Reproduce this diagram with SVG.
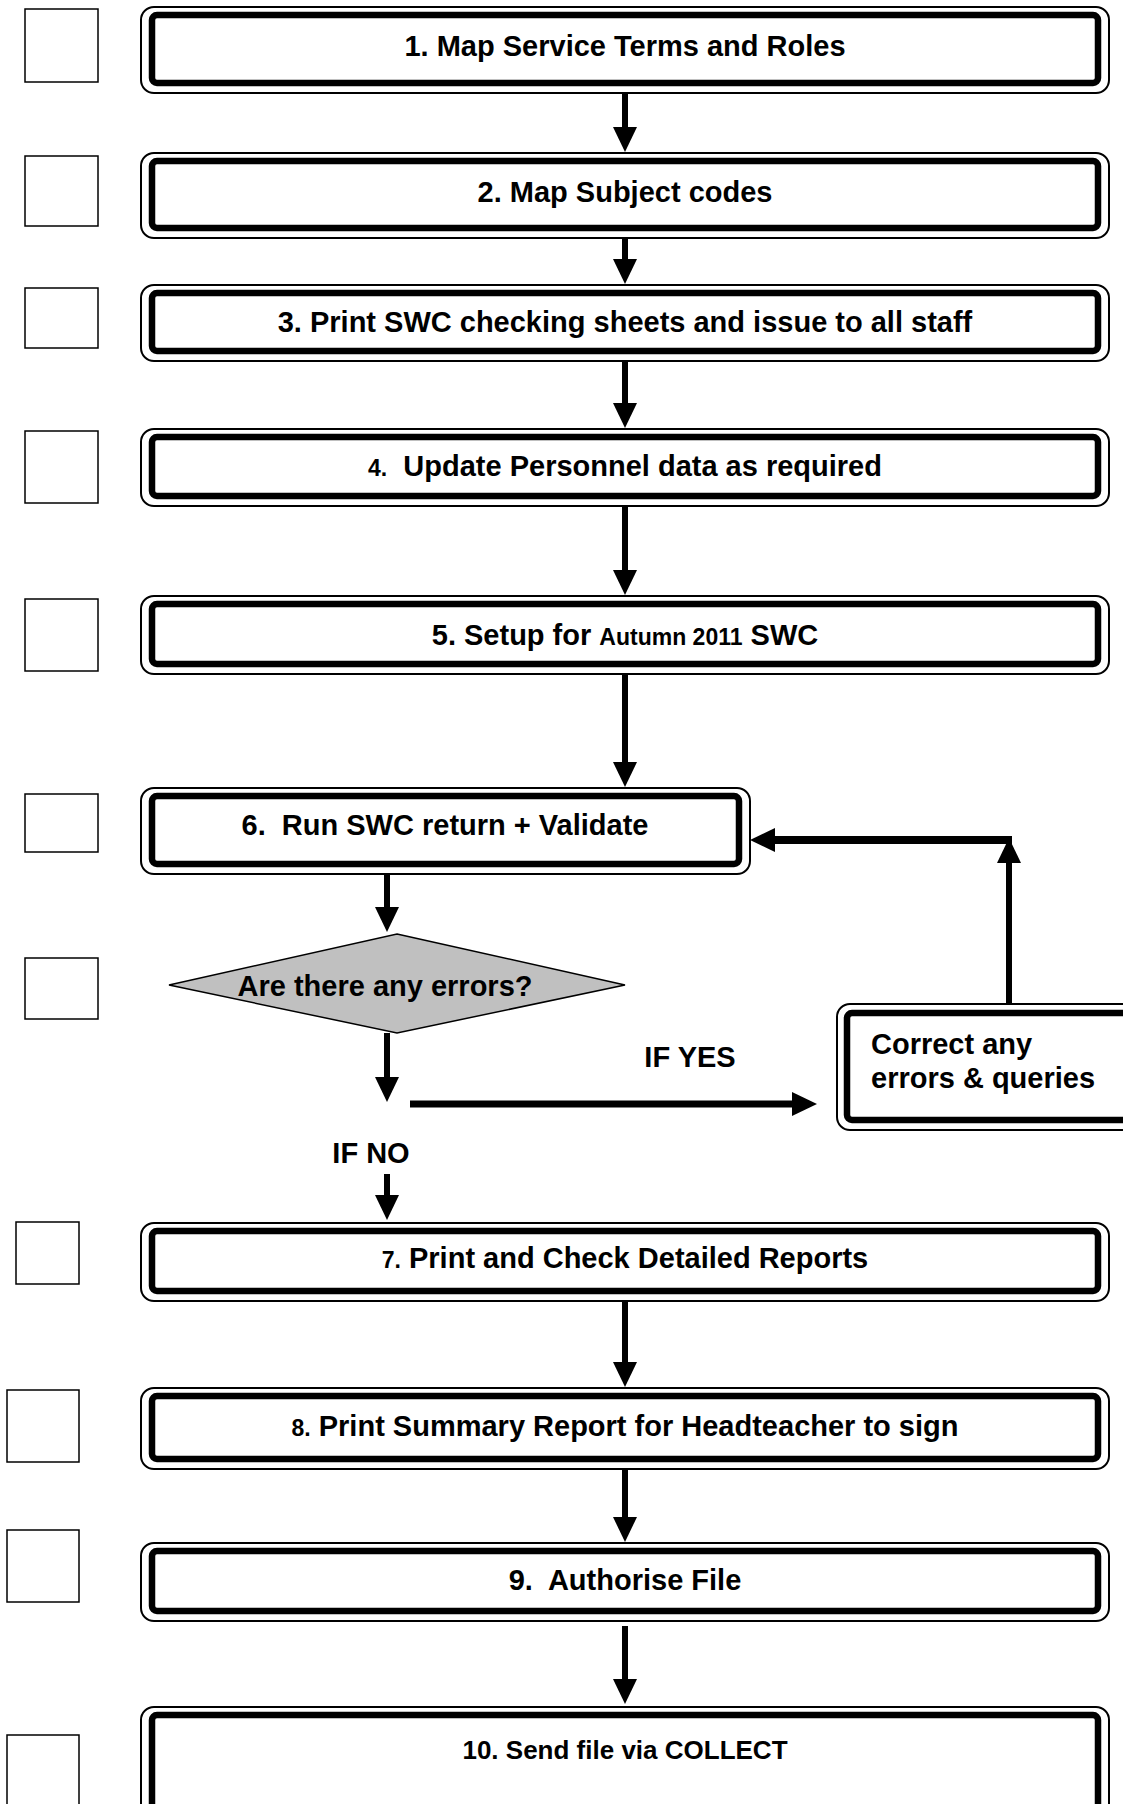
<svg xmlns="http://www.w3.org/2000/svg" width="1123" height="1804" viewBox="0 0 1123 1804">
<style>
.outer{fill:#fff;stroke:#000;stroke-width:2}
.inner{fill:none;stroke:#000;stroke-width:6.5}
.chk{fill:#fff;stroke:#000;stroke-width:1.5}
.t{font-family:"Liberation Sans",Arial,sans-serif;font-weight:bold;font-size:29px;fill:#000}
.m{text-anchor:middle}
.s{font-size:23px}
.conn line{stroke:#000;stroke-width:6}
</style>
<defs>
<marker id="ah" markerUnits="userSpaceOnUse" markerWidth="25" markerHeight="24" refX="0" refY="12" orient="auto">
<path d="M0,0 L25,12 L0,24 z" fill="#000"/>
</marker>
</defs>
<rect width="1123" height="1804" fill="#fff"/>
<g id="checkboxes">
<rect class="chk" x="25" y="9" width="73" height="73"/>
<rect class="chk" x="25" y="156" width="73" height="70"/>
<rect class="chk" x="25" y="288" width="73" height="60"/>
<rect class="chk" x="25" y="431" width="73" height="72"/>
<rect class="chk" x="25" y="599" width="73" height="72"/>
<rect class="chk" x="25" y="794" width="73" height="58"/>
<rect class="chk" x="25" y="958" width="73" height="61"/>
<rect class="chk" x="16" y="1222" width="63" height="62"/>
<rect class="chk" x="7" y="1390" width="72" height="72"/>
<rect class="chk" x="7" y="1530" width="72" height="72"/>
<rect class="chk" x="7" y="1735" width="72" height="80"/>
</g>
<g id="connectors" class="conn">
<line x1="625" y1="93" x2="625" y2="127" marker-end="url(#ah)"/>
<line x1="625" y1="238" x2="625" y2="259" marker-end="url(#ah)"/>
<line x1="625" y1="361" x2="625" y2="403" marker-end="url(#ah)"/>
<line x1="625" y1="506" x2="625" y2="570" marker-end="url(#ah)"/>
<line x1="625" y1="674" x2="625" y2="762" marker-end="url(#ah)"/>
<line x1="387" y1="874" x2="387" y2="907" marker-end="url(#ah)"/>
<line x1="387" y1="1033" x2="387" y2="1077" marker-end="url(#ah)"/>
<line x1="410" y1="1104" x2="792" y2="1104" style="stroke-width:7" marker-end="url(#ah)"/>
<line x1="387" y1="1174" x2="387" y2="1195" marker-end="url(#ah)"/>
<line x1="1009" y1="1004" x2="1009" y2="863" marker-end="url(#ah)"/>
<line x1="1012" y1="840" x2="775" y2="840" style="stroke-width:8" marker-end="url(#ah)"/>
<line x1="625" y1="1301" x2="625" y2="1362" marker-end="url(#ah)"/>
<line x1="625" y1="1469" x2="625" y2="1517" marker-end="url(#ah)"/>
<line x1="625" y1="1626" x2="625" y2="1679" marker-end="url(#ah)"/>
</g>
<g id="n1">
<rect class="outer" x="141" y="7" width="968" height="86" rx="13"/>
<rect class="inner" x="152" y="15" width="946" height="68" rx="5"/>
<text class="t m" x="625" y="56">1. Map Service Terms and Roles</text>
</g>
<g id="n2">
<rect class="outer" x="141" y="153" width="968" height="85" rx="13"/>
<rect class="inner" x="152" y="161" width="946" height="67" rx="5"/>
<text class="t m" x="625" y="202">2. Map Subject codes</text>
</g>
<g id="n3">
<rect class="outer" x="141" y="285" width="968" height="76" rx="13"/>
<rect class="inner" x="152" y="293" width="946" height="58" rx="5"/>
<text class="t m" x="625" y="332">3. Print SWC checking sheets and issue to all staff</text>
</g>
<g id="n4">
<rect class="outer" x="141" y="429" width="968" height="77" rx="13"/>
<rect class="inner" x="152" y="437" width="946" height="59" rx="5"/>
<text class="t m" x="625" y="476" xml:space="preserve"><tspan class="s">4.</tspan>  Update Personnel data as required</text>
</g>
<g id="n5">
<rect class="outer" x="141" y="596" width="968" height="78" rx="13"/>
<rect class="inner" x="152" y="604" width="946" height="60" rx="5"/>
<text class="t m" x="625" y="645">5. Setup for <tspan class="s">Autumn 2011</tspan> SWC</text>
</g>
<g id="n6">
<rect class="outer" x="141" y="788" width="609" height="86" rx="13"/>
<rect class="inner" x="152" y="796" width="587" height="68" rx="5"/>
<text class="t m" x="445" y="835" xml:space="preserve">6.  Run SWC return + Validate</text>
</g>
<g id="decision">
<polygon points="397,934 625,985 397,1033 169,985" fill="#c0c0c0" stroke="#000" stroke-width="1.5"/>
<text class="t m" x="385" y="996">Are there any errors?</text>
</g>
<g id="labels">
<text class="t m" x="690" y="1067">IF YES</text>
<text class="t m" x="371" y="1163">IF NO</text>
</g>
<g id="correct">
<rect class="outer" x="837" y="1004" width="300" height="126" rx="13"/>
<rect class="inner" x="847" y="1013" width="290" height="107" rx="5"/>
<text class="t" x="871" y="1054">Correct any</text>
<text class="t" x="871" y="1088">errors &amp; queries</text>
</g>
<g id="n7">
<rect class="outer" x="141" y="1223" width="968" height="78" rx="13"/>
<rect class="inner" x="152" y="1231" width="946" height="60" rx="5"/>
<text class="t m" x="625" y="1268"><tspan class="s">7.</tspan> Print and Check Detailed Reports</text>
</g>
<g id="n8">
<rect class="outer" x="141" y="1388" width="968" height="81" rx="13"/>
<rect class="inner" x="152" y="1396" width="946" height="63" rx="5"/>
<text class="t m" x="625" y="1436"><tspan class="s">8.</tspan> Print Summary Report for Headteacher to sign</text>
</g>
<g id="n9">
<rect class="outer" x="141" y="1543" width="968" height="78" rx="13"/>
<rect class="inner" x="152" y="1551" width="946" height="60" rx="5"/>
<text class="t m" x="625" y="1590" xml:space="preserve">9.  Authorise File</text>
</g>
<g id="n10">
<rect class="outer" x="141" y="1707" width="968" height="120" rx="13"/>
<rect class="inner" x="152" y="1715" width="946" height="102" rx="5"/>
<text class="t m" x="625" y="1759" style="font-size:26px">10. Send file via COLLECT</text>
</g>
</svg>
